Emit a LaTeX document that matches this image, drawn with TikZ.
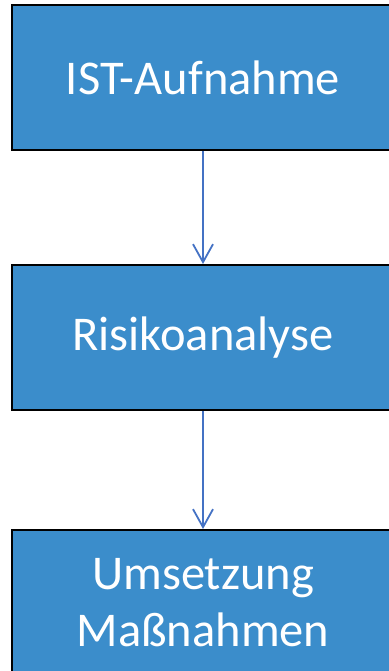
\documentclass[tikz,border=0pt]{standalone}
\usepackage{fontspec}
\setmainfont{Carlito}
\usetikzlibrary{arrows.meta,positioning}
\definecolor{boxblue}{HTML}{3B8DCB}
\definecolor{flowblue}{HTML}{4472C4}

\begin{document}
\begin{tikzpicture}[x=1pt,y=-1pt,
		stepbox/.style={rectangle, draw=black, line width=2pt, fill=boxblue,
			minimum width=382pt, minimum height=145pt, text=white, align=center,
			font=\fontsize{48.5}{57}\selectfont},
		flow/.style={draw=flowblue, line width=1.8pt,
			-{Straight Barb[length=18pt,width=20pt,line width=1.8pt]}}]
		\useasboundingbox (0,0) rectangle (388,671);
		\draw (203,77.5) node [stepbox] (ist) {IST-Aufnahme};
		\draw (203,337.5) node [stepbox] (risiko) {Risikoanalyse};
		\draw (203,602.5) node [stepbox] (massnahmen) {Umsetzung\\Maßnahmen};

		\draw
			(ist) edge [flow] (risiko)
			(risiko) edge [flow] (massnahmen)
		;
	\end{tikzpicture}
\end{document}
